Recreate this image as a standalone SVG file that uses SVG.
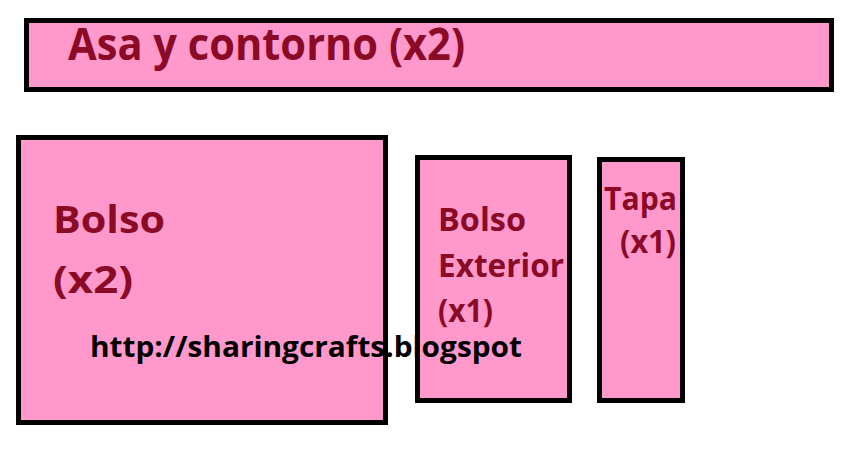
<svg xmlns="http://www.w3.org/2000/svg" width="852" height="473" viewBox="0 0 852 473">
<style>
.box{fill:#FF99CC;stroke:#000;stroke-width:5}
.lbl{font-family:"Open Sans","Liberation Sans",sans-serif;font-weight:bold;fill:#8B0A26}
.url{font-family:"Open Sans","Liberation Sans",sans-serif;font-weight:bold;fill:#000}
</style>
<rect width="852" height="473" fill="#fff"/>
<g id="asa">
<rect class="box" x="26.5" y="20.5" width="805" height="69"/>
<text class="lbl" x="68" y="60" font-size="45" textLength="397" lengthAdjust="spacingAndGlyphs">Asa y contorno (x2)</text>
</g>
<g id="bolso">
<rect class="box" x="18.5" y="137.5" width="367" height="285"/>
<text class="lbl" x="53" y="233" font-size="38" textLength="112" lengthAdjust="spacingAndGlyphs">Bolso</text>
<text class="lbl" x="53" y="293" font-size="38" textLength="80" lengthAdjust="spacingAndGlyphs">(x2)</text>
</g>
<g id="bolso-exterior">
<rect class="box" x="417.5" y="157.5" width="152" height="243"/>
<text class="lbl" x="438" y="231" font-size="32" textLength="88" lengthAdjust="spacingAndGlyphs">Bolso</text>
<text class="lbl" x="438" y="277" font-size="32" textLength="126" lengthAdjust="spacingAndGlyphs">Exterior</text>
<text class="lbl" x="438" y="322" font-size="32" textLength="55" lengthAdjust="spacingAndGlyphs">(x1)</text>
</g>
<g id="tapa">
<rect class="box" x="599.5" y="159.5" width="83" height="241"/>
<text class="lbl" x="604" y="210" font-size="32" textLength="73" lengthAdjust="spacingAndGlyphs">Tapa</text>
<text class="lbl" x="620" y="253" font-size="32" textLength="56" lengthAdjust="spacingAndGlyphs">(x1)</text>
</g>
<g id="url">
<text class="url" x="90" y="357" font-size="28" textLength="432" lengthAdjust="spacingAndGlyphs">http://sharingcrafts.blogspot</text>
</g>
<g id="connectors"></g>
</svg>
